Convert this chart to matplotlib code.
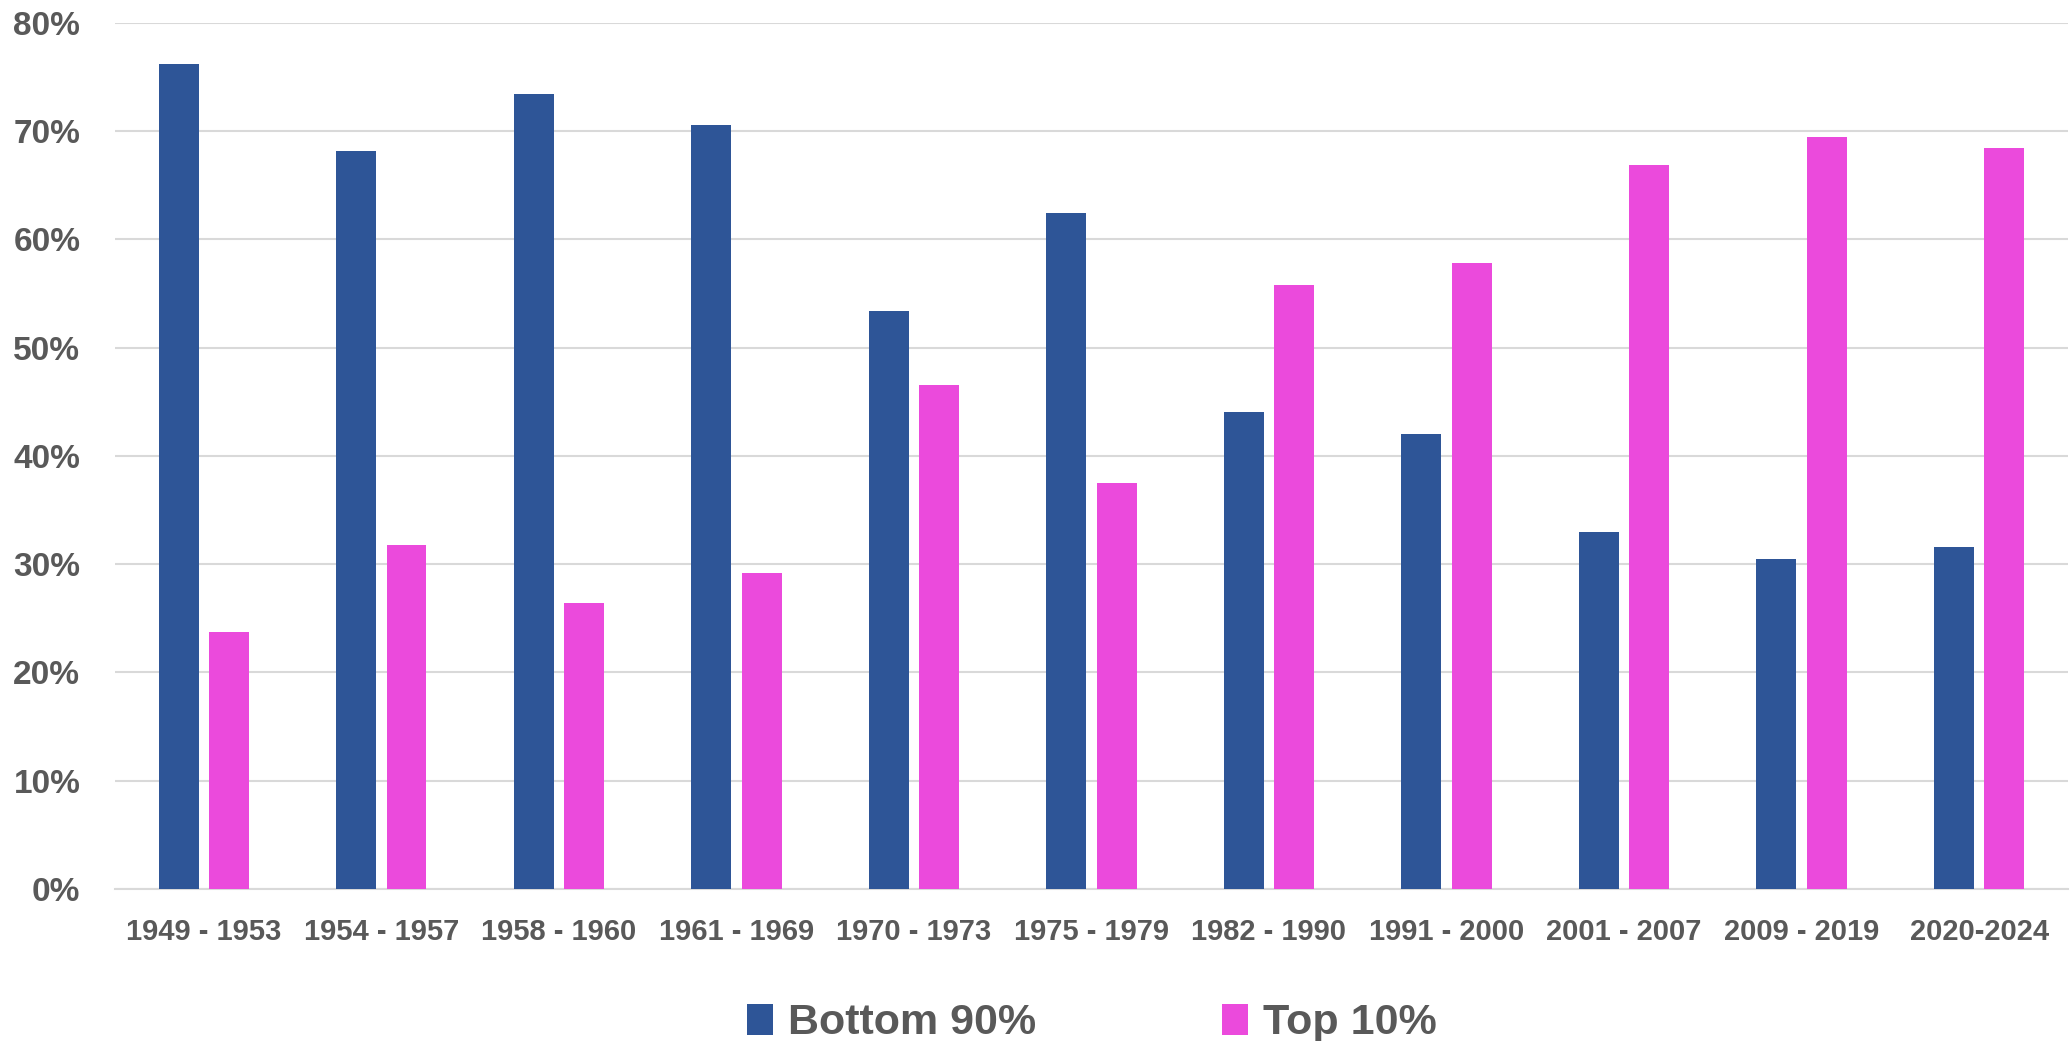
import numpy as np
import matplotlib
matplotlib.use("Agg")
import matplotlib.pyplot as plt
from matplotlib.ticker import PercentFormatter

plt.rcParams['font.family'] = ['Liberation Sans', 'DejaVu Sans']
plt.rcParams['font.weight'] = 'bold'

periods = ["1949 - 1953", "1954 - 1957", "1958 - 1960", "1961 - 1969", "1970 - 1973",
           "1975 - 1979", "1982 - 1990", "1991 - 2000", "2001 - 2007", "2009 - 2019",
           "2020-2024"]
bottom90 = [76.2, 68.2, 73.4, 70.6, 53.4, 62.4, 44.1, 42.0, 33.0, 30.5, 31.6]
top10 = [23.7, 31.8, 26.4, 29.2, 46.6, 37.5, 55.8, 57.8, 66.9, 69.5, 68.4]

blue = "#2E5597"
pink = "#EB4ADC"
grey_txt = "#595959"
grid_c = "#D9D9D9"

fig = plt.figure(figsize=(20.72, 10.41), dpi=100)
ax = fig.add_axes([0.0555, 0.146, 0.9425, 0.832])

x = np.arange(len(periods))
w = 0.225
off = 0.142
ax.bar(x - off, bottom90, w, color=blue, label="Bottom 90%", zorder=3)
ax.bar(x + off, top10, w, color=pink, label="Top 10%", zorder=3)

ax.set_xlim(-0.5, len(periods) - 0.5)
ax.set_ylim(0, 80)
ax.set_yticks(np.arange(0, 81, 10))
ax.yaxis.set_major_formatter(PercentFormatter(decimals=0))
ax.grid(axis='y', color=grid_c, linewidth=1.5, zorder=0)

for s in ['top', 'right', 'left']:
    ax.spines[s].set_visible(False)
ax.spines['bottom'].set_color(grid_c)
ax.spines['bottom'].set_linewidth(1.5)

ax.set_xticks(x)
ax.set_xticklabels(periods)
ax.tick_params(axis='x', length=0, pad=21, labelsize=21, labelcolor=grey_txt)
ax.tick_params(axis='y', length=0, pad=25, labelsize=24, labelcolor=grey_txt)

# legend under the axis, two entries side by side
fig.legend(loc='center', bbox_to_anchor=(0.527, 0.017), ncol=2, frameon=False,
           fontsize=31, labelcolor=grey_txt, handlelength=0.62, handleheight=0.75,
           handletextpad=0.35, columnspacing=4.3)

fig.savefig("out.png", dpi=100)
